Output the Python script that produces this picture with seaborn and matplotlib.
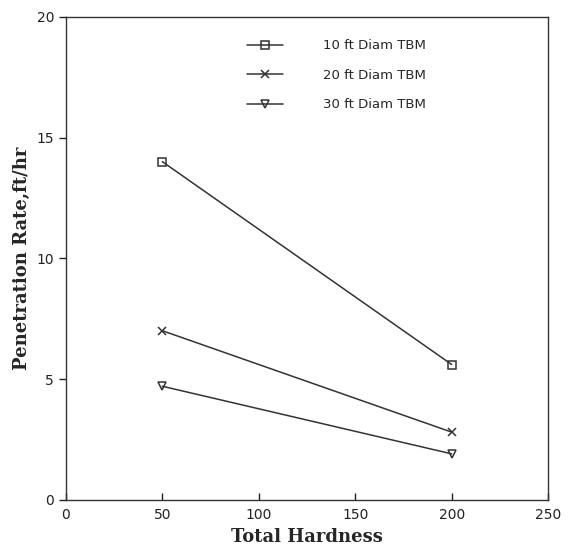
import pandas as pd
import matplotlib
matplotlib.use('Agg')
import matplotlib.pyplot as plt
import seaborn as sns

hardness = [50, 200]
rate_10ft = [14.0, 5.6]
rate_20ft = [7.0, 2.8]
rate_30ft = [4.7, 1.9]
labels = ['10 ft Diam TBM', '20 ft Diam TBM', '30 ft Diam TBM']

sns.set_style('white')
plt.rcParams['font.family'] = ['DejaVu Sans']

fig = plt.figure(figsize=(5.68, 5.59), dpi=100)
ax = fig.add_axes([0.116, 0.106, 0.849, 0.864])

line_color = '#333333'
for lab, vals, mk in zip(labels, [rate_10ft, rate_20ft, rate_30ft], ['s', 'x', 'v']):
    sns.lineplot(x=hardness, y=vals, label=lab, marker=mk, color=line_color,
                 linewidth=1.1, markersize=5.5, markerfacecolor='none',
                 markeredgecolor=line_color, markeredgewidth=1.1, ax=ax)

ax.set_xlim(0, 250)
ax.set_ylim(0, 20)
ax.set_xticks([0, 50, 100, 150, 200, 250])
ax.set_yticks([0, 5, 10, 15, 20])
ax.tick_params(axis='x', bottom=True, direction='in', length=5, width=1, labelsize=10, pad=6)
ax.tick_params(axis='y', left=True, direction='out', length=5, width=1, labelsize=10)
ax.tick_params(colors='#222222')
for s in ax.spines.values():
    s.set_color('#333333')
    s.set_linewidth(1.0)

ax.set_xlabel('Total Hardness', family='DejaVu Serif', weight='bold', fontsize=13)
ax.set_ylabel('Penetration Rate,ft/hr', family='DejaVu Serif', weight='bold', fontsize=13)

ax.legend(loc='upper left', bbox_to_anchor=(0.35, 0.978), frameon=False,
          fontsize=9.5, handlelength=2.8, labelspacing=1.25, handletextpad=3.0)

fig.savefig('out.png', dpi=100)
